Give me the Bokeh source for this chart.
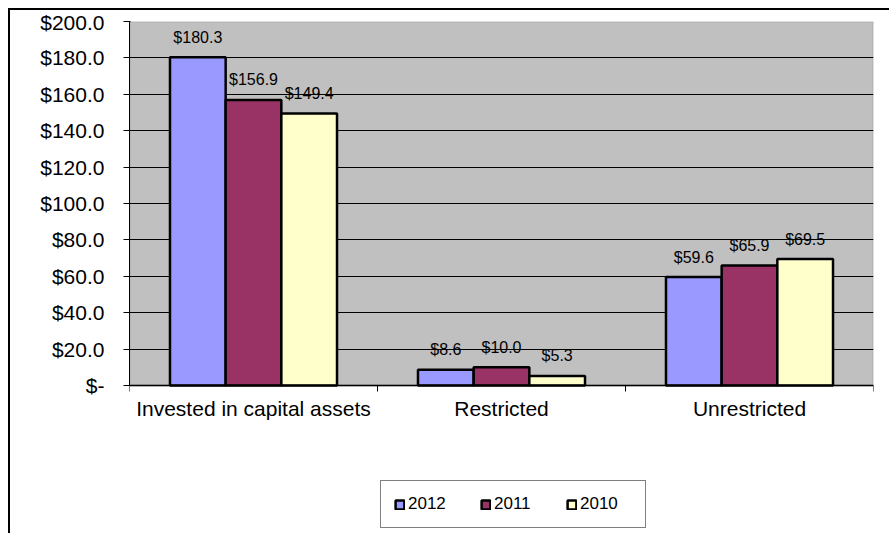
from bokeh.plotting import figure
from bokeh.models import (ColumnDataSource, Range1d, FixedTicker, NumeralTickFormatter,
                          Legend, LegendItem, BoxAnnotation)
from bokeh.transform import dodge
from bokeh.core.properties import value
from bokeh.embed import file_html
from bokeh.resources import INLINE

# ---- data ----
categories = ["Invested in capital assets", "Restricted", "Unrestricted"]
years = ["2012", "2011", "2010"]
values_2012 = [180.3, 8.6, 59.6]
values_2011 = [156.9, 10.0, 65.9]
values_2010 = [149.4, 5.3, 69.5]
y_ticks = [0, 20, 40, 60, 80, 100, 120, 140, 160, 180, 200]
colors = ["#9999FF", "#993366", "#FFFFCC"]

FONT = "Liberation Sans"

x_centers = [i + 0.5 for i in range(len(categories))]
series = [values_2012, values_2011, values_2010]
data = dict(x=x_centers)
for yr, vals in zip(years, series):
    data["v" + yr] = vals
    data["l" + yr] = ["${:.1f}".format(v) for v in vals]
source = ColumnDataSource(data)

# frame reaches below zero so that the category labels and the legend sit inside it
y_lo = -81.3
p = figure(width=881, height=525,
           x_range=Range1d(0, len(categories)), y_range=Range1d(y_lo, y_ticks[-1]),
           output_backend="svg", toolbar_location=None,
           min_border_left=119, min_border_top=11, min_border_right=18, min_border_bottom=2)
p.styles = {"border-left": "2px solid black", "border-top": "2px solid black",
            "transform": "translate(8px, 8px)"}

p.background_fill_color = "white"
p.border_fill_color = "white"
p.outline_line_color = None

plot_area = BoxAnnotation(bottom=y_ticks[0], top=y_ticks[-1], fill_color="#C0C0C0",
                          fill_alpha=1, line_color="#808080", line_width=2, level="image")
p.add_layout(plot_area)

bw = 0.2245
offsets = [-bw, 0.0, bw]
renderers = []
for yr, col, off in zip(years, colors, offsets):
    r = p.vbar(x=dodge("x", off, range=p.x_range), top="v" + yr, width=bw, bottom=0,
               source=source, fill_color=col, line_color="black", line_width=2.5)
    renderers.append(r)
    p.text(x=dodge("x", off, range=p.x_range), y="v" + yr, text="l" + yr, source=source,
           text_align="center", text_baseline="middle", y_offset=-20,
           text_font=value(FONT), text_font_size="16px", text_color="black")

# y axis
yax = p.yaxis[0]
yax.bounds = (y_ticks[0], y_ticks[-1])
yax.ticker = FixedTicker(ticks=y_ticks)
yax.formatter = NumeralTickFormatter(format="$0.0")
yax.major_label_overrides = {0: "$-"}
yax.major_label_text_font = FONT
yax.major_label_text_font_size = "21px"
yax.major_label_text_color = "black"
yax.major_label_standoff = 19
yax.major_tick_out = 6
yax.major_tick_in = 1
yax.major_tick_line_color = "black"
yax.minor_tick_line_color = None
yax.axis_line_color = "black"
yax.axis_line_width = 1

# x axis, drawn at zero
xax = p.xaxis[0]
xax.fixed_location = 0
xax.ticker = FixedTicker(ticks=x_centers, minor_ticks=list(range(len(categories) + 1)))
xax.major_label_overrides = {xc: c for xc, c in zip(x_centers, categories)}
xax.major_label_text_font = FONT
xax.major_label_text_font_size = "21px"
xax.major_label_text_color = "black"
xax.major_label_standoff = 5
xax.major_tick_line_color = None
xax.major_tick_out = 0
xax.major_tick_in = 0
xax.minor_tick_line_color = "black"
xax.minor_tick_out = 6
xax.minor_tick_in = 0
xax.axis_line_color = "black"
xax.axis_line_width = 1.5

p.xgrid.grid_line_color = None
p.ygrid.ticker = FixedTicker(ticks=y_ticks[:-1])
p.ygrid.grid_line_color = "black"
p.ygrid.grid_line_width = 1

legend = Legend(items=[LegendItem(label=yr, renderers=[r]) for yr, r in zip(years, renderers)],
                orientation="horizontal", location=(251, 5))
legend.label_text_font = FONT
legend.label_text_font_size = "17px"
legend.label_text_color = "black"
legend.glyph_width = 11
legend.glyph_height = 11
legend.label_standoff = 3
legend.label_width = 52
legend.label_height = 20
legend.spacing = 20
legend.padding = 13
legend.margin = 0
legend.border_line_color = "black"
legend.border_line_width = 1.5
legend.background_fill_color = "white"
legend.background_fill_alpha = 1
p.add_layout(legend, "center")

open("out.html", "w").write(file_html(p, INLINE))
